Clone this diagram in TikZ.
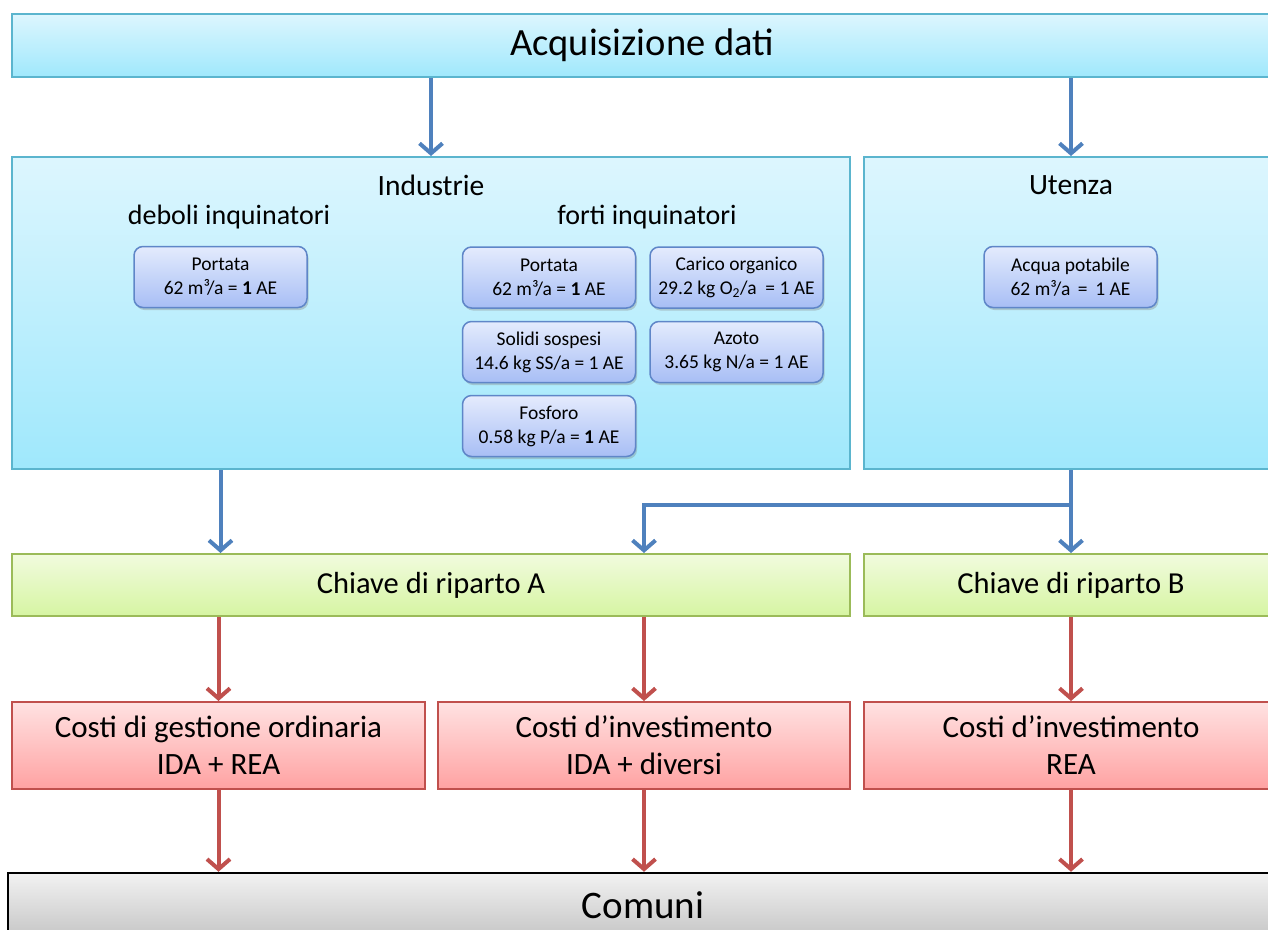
\documentclass[tikz,border=0pt]{standalone}
\usepackage{fontspec}
\setmainfont{Carlito}
\usetikzlibrary{positioning,arrows.meta,shadows}

\definecolor{cyanline}{HTML}{5BB5CE}
\definecolor{cyantop}{HTML}{DDF6FE}
\definecolor{cyanbot}{HTML}{9FE8FC}
\definecolor{itemline}{HTML}{5F86C8}
\definecolor{itemtop}{HTML}{E4EBFD}
\definecolor{itembot}{HTML}{A7BEF5}
\definecolor{greenline}{HTML}{9BBB59}
\definecolor{greentop}{HTML}{F1FBDE}
\definecolor{greenbot}{HTML}{D6F5A2}
\definecolor{redline}{HTML}{C0504D}
\definecolor{redtop}{HTML}{FFE2E2}
\definecolor{redbot}{HTML}{FFA2A2}
\definecolor{greytop}{HTML}{F2F2F2}
\definecolor{greybot}{HTML}{C6C6C6}
\definecolor{arrblue}{HTML}{4F81BD}
\definecolor{arrred}{HTML}{C0504D}

\begin{document}
\begin{tikzpicture}
        [x=1pt,y=-1pt,
         box/.style={rectangle,inner sep=0pt,line width=2pt},
         cyanbox/.style={box,draw=cyanline,top color=cyantop,bottom color=cyanbot},
         greenbox/.style={box,draw=greenline,top color=greentop,bottom color=greenbot,
           minimum height=62pt,font=\fontsize{30.5}{36}\selectfont},
         redbox/.style={box,draw=redline,top color=redtop,bottom color=redbot,
           minimum height=87pt,align=center,font=\fontsize{31}{37}\selectfont},
         item/.style={rectangle,rounded corners=9pt,draw=itemline,line width=1.5pt,
           top color=itemtop,bottom color=itembot,minimum width=173pt,minimum height=61pt,
           align=center,font=\fontsize{19.5}{24}\selectfont,
           drop shadow={opacity=0.35,shadow xshift=1.5pt,shadow yshift=-2.5pt}},
         headtxt/.style={font=\fontsize{29.5}{34}\selectfont},
         subtxt/.style={font=\fontsize{28}{34}\selectfont},
         bluearr/.style={draw=arrblue,line width=4pt,-{Straight Barb[length=10pt,width=23pt]}},
         redarr/.style={draw=arrred,line width=4pt,-{Straight Barb[length=10pt,width=23pt]}}]
        \useasboundingbox (0,0) rectangle (1268,929);
        \clip (0,0) rectangle (1268,929);

        \node[cyanbox, minimum width=1260pt, minimum height=63pt,
              font=\fontsize{38.5}{44}\selectfont] (acq) at (642, 45.5) {Acquisizione dati};

        \node[cyanbox, minimum width=838pt, minimum height=312pt] (ind) at (431, 313) {};
        \node[cyanbox, minimum width=414pt, minimum height=312pt] (ute) at (1071, 313) {};

        \node[headtxt] (tInd) at (431, 185) {Industrie};
        \node[subtxt] (tDeb) at (229, 217) {deboli inquinatori};
        \node[subtxt] (tFor) at (647, 217) {forti inquinatori};
        \node[headtxt] (tUte) at (1071, 185) {Utenza};

        \node[item] (pl) at (220.5, 277) {Portata\\62 m³/a = \textbf{1} AE};
        \node[item] (pf) at (549, 277.5) {Portata\\62 m³/a = \textbf{1} AE};
        \node[item] (co) at (736.5, 277.5) {Carico organico\\29.2 kg O\textsubscript{2}/a \ = 1 AE};
        \node[item] (ss) at (549, 352) {Solidi sospesi\\14.6 kg SS/a = 1 AE};
        \node[item] (az) at (736.5, 352) {Azoto\\3.65 kg N/a = 1 AE};
        \node[item] (fo) at (549, 426) {Fosforo\\0.58 kg P/a = \textbf{1} AE};
        \node[item] (ap) at (1070.5, 277) {Acqua potabile\\62 m³/a \,=\, 1 AE};

        \node[greenbox, minimum width=838pt] (chA) at (431, 585) {Chiave di riparto A};
        \node[greenbox, minimum width=414pt] (chB) at (1071, 585) {Chiave di riparto B};

        \node[redbox, minimum width=413pt] (cA) at (218.5, 745.5) {Costi di gestione ordinaria\\IDA + REA};
        \node[redbox, minimum width=412pt] (cI) at (644, 745.5) {Costi d’investimento\\IDA + diversi};
        \node[redbox, minimum width=414pt] (cR) at (1071, 745.5) {Costi d’investimento\\REA};

        \node[box, draw=black, line width=2.5pt, top color=greytop, bottom color=greybot,
              minimum width=1270pt, minimum height=64pt,
              font=\fontsize{39}{46}\selectfont] (com) at (643, 905) {Comuni};

        \coordinate (split) at (1071, 505);

        \foreach \from/\to/\x in {acq/ind/ind, acq/ute/ute, ind/chA/pl, ute/chB/ute}
            \draw[bluearr] (\from.south -| \x) -- (\to.north -| \x);
        \draw[bluearr] (split) -| (chA.north -| cI);

        \foreach \from/\to/\x in {chA/cA/cA, chA/cI/cI, chB/cR/cR,
        cA/com/cA, cI/com/cI, cR/com/cR}
            \draw[redarr] (\from.south -| \x) -- (\to.north -| \x);

      \end{tikzpicture}
\end{document}
